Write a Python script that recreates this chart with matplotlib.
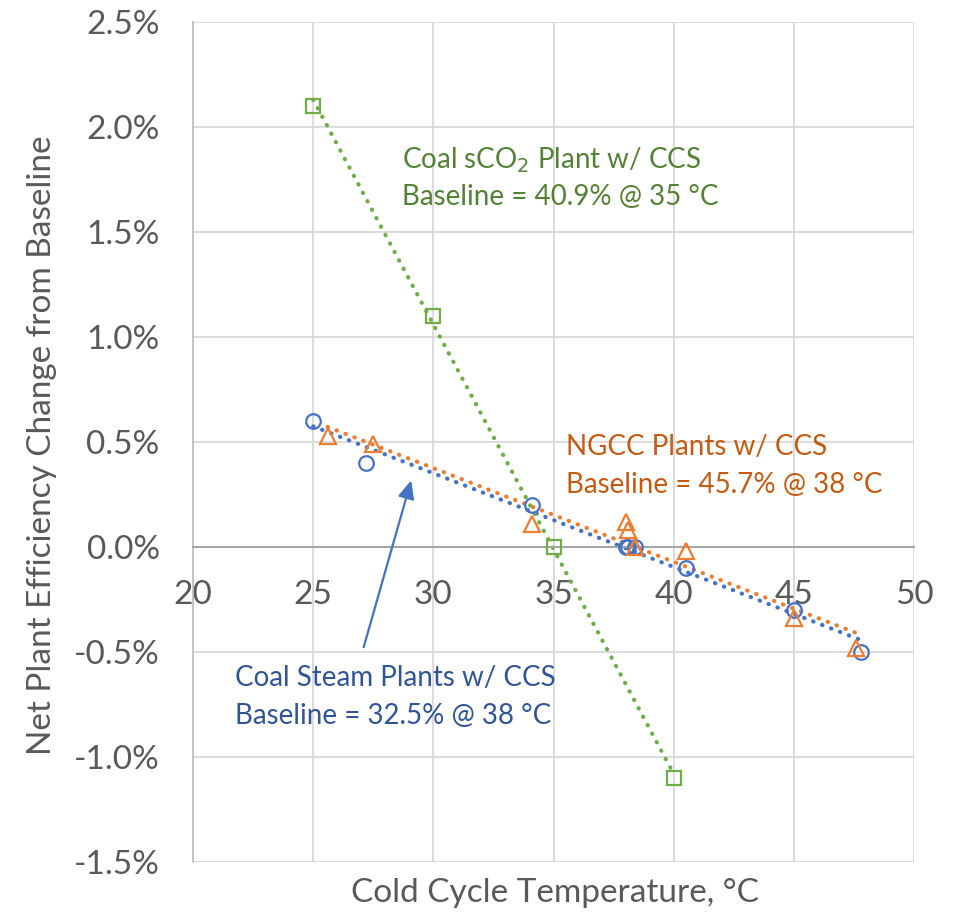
import numpy as np
import matplotlib.pyplot as plt
from matplotlib.ticker import FuncFormatter

# data (y in percent)
steam_t = [25.0, 27.2, 34.1, 38.0, 38.1, 38.4, 40.5, 45.0, 47.8]
steam_d = [0.60, 0.40, 0.20, 0.00, 0.00, 0.00, -0.10, -0.30, -0.50]

ngcc_t = [25.6, 27.5, 34.1, 38.0, 38.1, 38.4, 40.5, 45.0, 47.6]
ngcc_d = [0.53, 0.49, 0.11, 0.12, 0.08, 0.00, -0.02, -0.34, -0.48]

sco2_t = [25.0, 30.0, 35.0, 40.0]
sco2_d = [2.10, 1.10, 0.00, -1.10]

blue, orange, green = '#4472C4', '#ED7D31', '#70AD47'
fonts = ['Lato', 'DejaVu Sans']

fig = plt.figure(figsize=(9.56, 9.17), dpi=100)
ax = fig.add_axes([193/956, 1-862/917, (914-193)/956, (862-22)/917])

# linear trendlines, dotted
def trend(t, d, color):
    c = np.polyfit(t, d, 1)
    xs = np.linspace(min(t), max(t), 100)
    ax.plot(xs, np.polyval(c, xs), color=color, lw=3, ls=(0, (0.1, 2.2)),
            dash_capstyle='round', zorder=2)

trend(steam_t, steam_d, blue)
trend(ngcc_t, ngcc_d, orange)
trend(sco2_t, sco2_d, green)

ax.plot(steam_t, steam_d, 'o', ms=10.5, mfc='none', mec=blue, mew=1.6, zorder=3)
ax.plot(ngcc_t, ngcc_d, '^', ms=11.5, mfc='none', mec=orange, mew=1.6, zorder=3)
ax.plot(sco2_t, sco2_d, 's', ms=10, mfc='none', mec=green, mew=1.6, zorder=3)

ax.set_xlim(20, 50)
ax.set_ylim(-1.5, 2.5)
ax.set_xticks(np.arange(20, 51, 5))
ax.set_yticks(np.arange(-1.5, 2.51, 0.5))
ax.yaxis.set_major_formatter(FuncFormatter(lambda v, p: f'{v:.1f}%'))
ax.grid(True, color='#d9d9d9', lw=1.3)
ax.set_axisbelow(True)

for s in ['top', 'right']:
    ax.spines[s].set_visible(False)
ax.spines['bottom'].set_position(('data', 0))
ax.spines['bottom'].set_color('#a6a6a6')
ax.spines['bottom'].set_linewidth(1.5)
ax.spines['left'].set_color('#bfbfbf')
ax.spines['left'].set_linewidth(1.3)
ax.axhline(-1.5, color='#bfbfbf', lw=1.3, zorder=0)

ax.tick_params(length=0, labelsize=24, labelcolor='#595959')
ax.tick_params(axis='x', pad=24)
ax.tick_params(axis='y', pad=24)
for lab in ax.get_xticklabels() + ax.get_yticklabels():
    lab.set_family(fonts)

fig.text(555/956, 1-893/917, 'Cold Cycle Temperature, °C', ha='center', va='center',
         fontsize=24, color='#595959', family=fonts)
fig.text(42/956, 1-445/917, 'Net Plant Efficiency Change from Baseline', ha='center',
         va='center', rotation=90, fontsize=24, color='#595959', family=fonts)

ax.text(28.7, 1.84, 'Coal sCO$_2$ Plant w/ CCS', color='#548235', fontsize=20,
        family='Lato', va='center')
ax.text(28.7, 1.665, 'Baseline = 40.9% @ 35 °C', color='#548235', fontsize=20,
        family='Lato', va='center')
ax.text(35.5, 0.476, 'NGCC Plants w/ CCS', color='#C55A11', fontsize=20,
        family='Lato', va='center')
ax.text(35.5, 0.295, 'Baseline = 45.7% @ 38 °C', color='#C55A11', fontsize=20,
        family='Lato', va='center')
ax.text(21.75, -0.624, 'Coal Steam Plants w/ CCS', color='#2F5597', fontsize=20,
        family='Lato', va='center')
ax.text(21.75, -0.805, 'Baseline = 32.5% @ 38 °C', color='#2F5597', fontsize=20,
        family='Lato', va='center')

ax.annotate('', xy=(29.11, 0.33), xytext=(27.07, -0.49),
            arrowprops=dict(arrowstyle='-|>,head_length=1.1,head_width=0.5',
                            color=blue, lw=1.6))

fig.savefig('out.png', dpi=100)
